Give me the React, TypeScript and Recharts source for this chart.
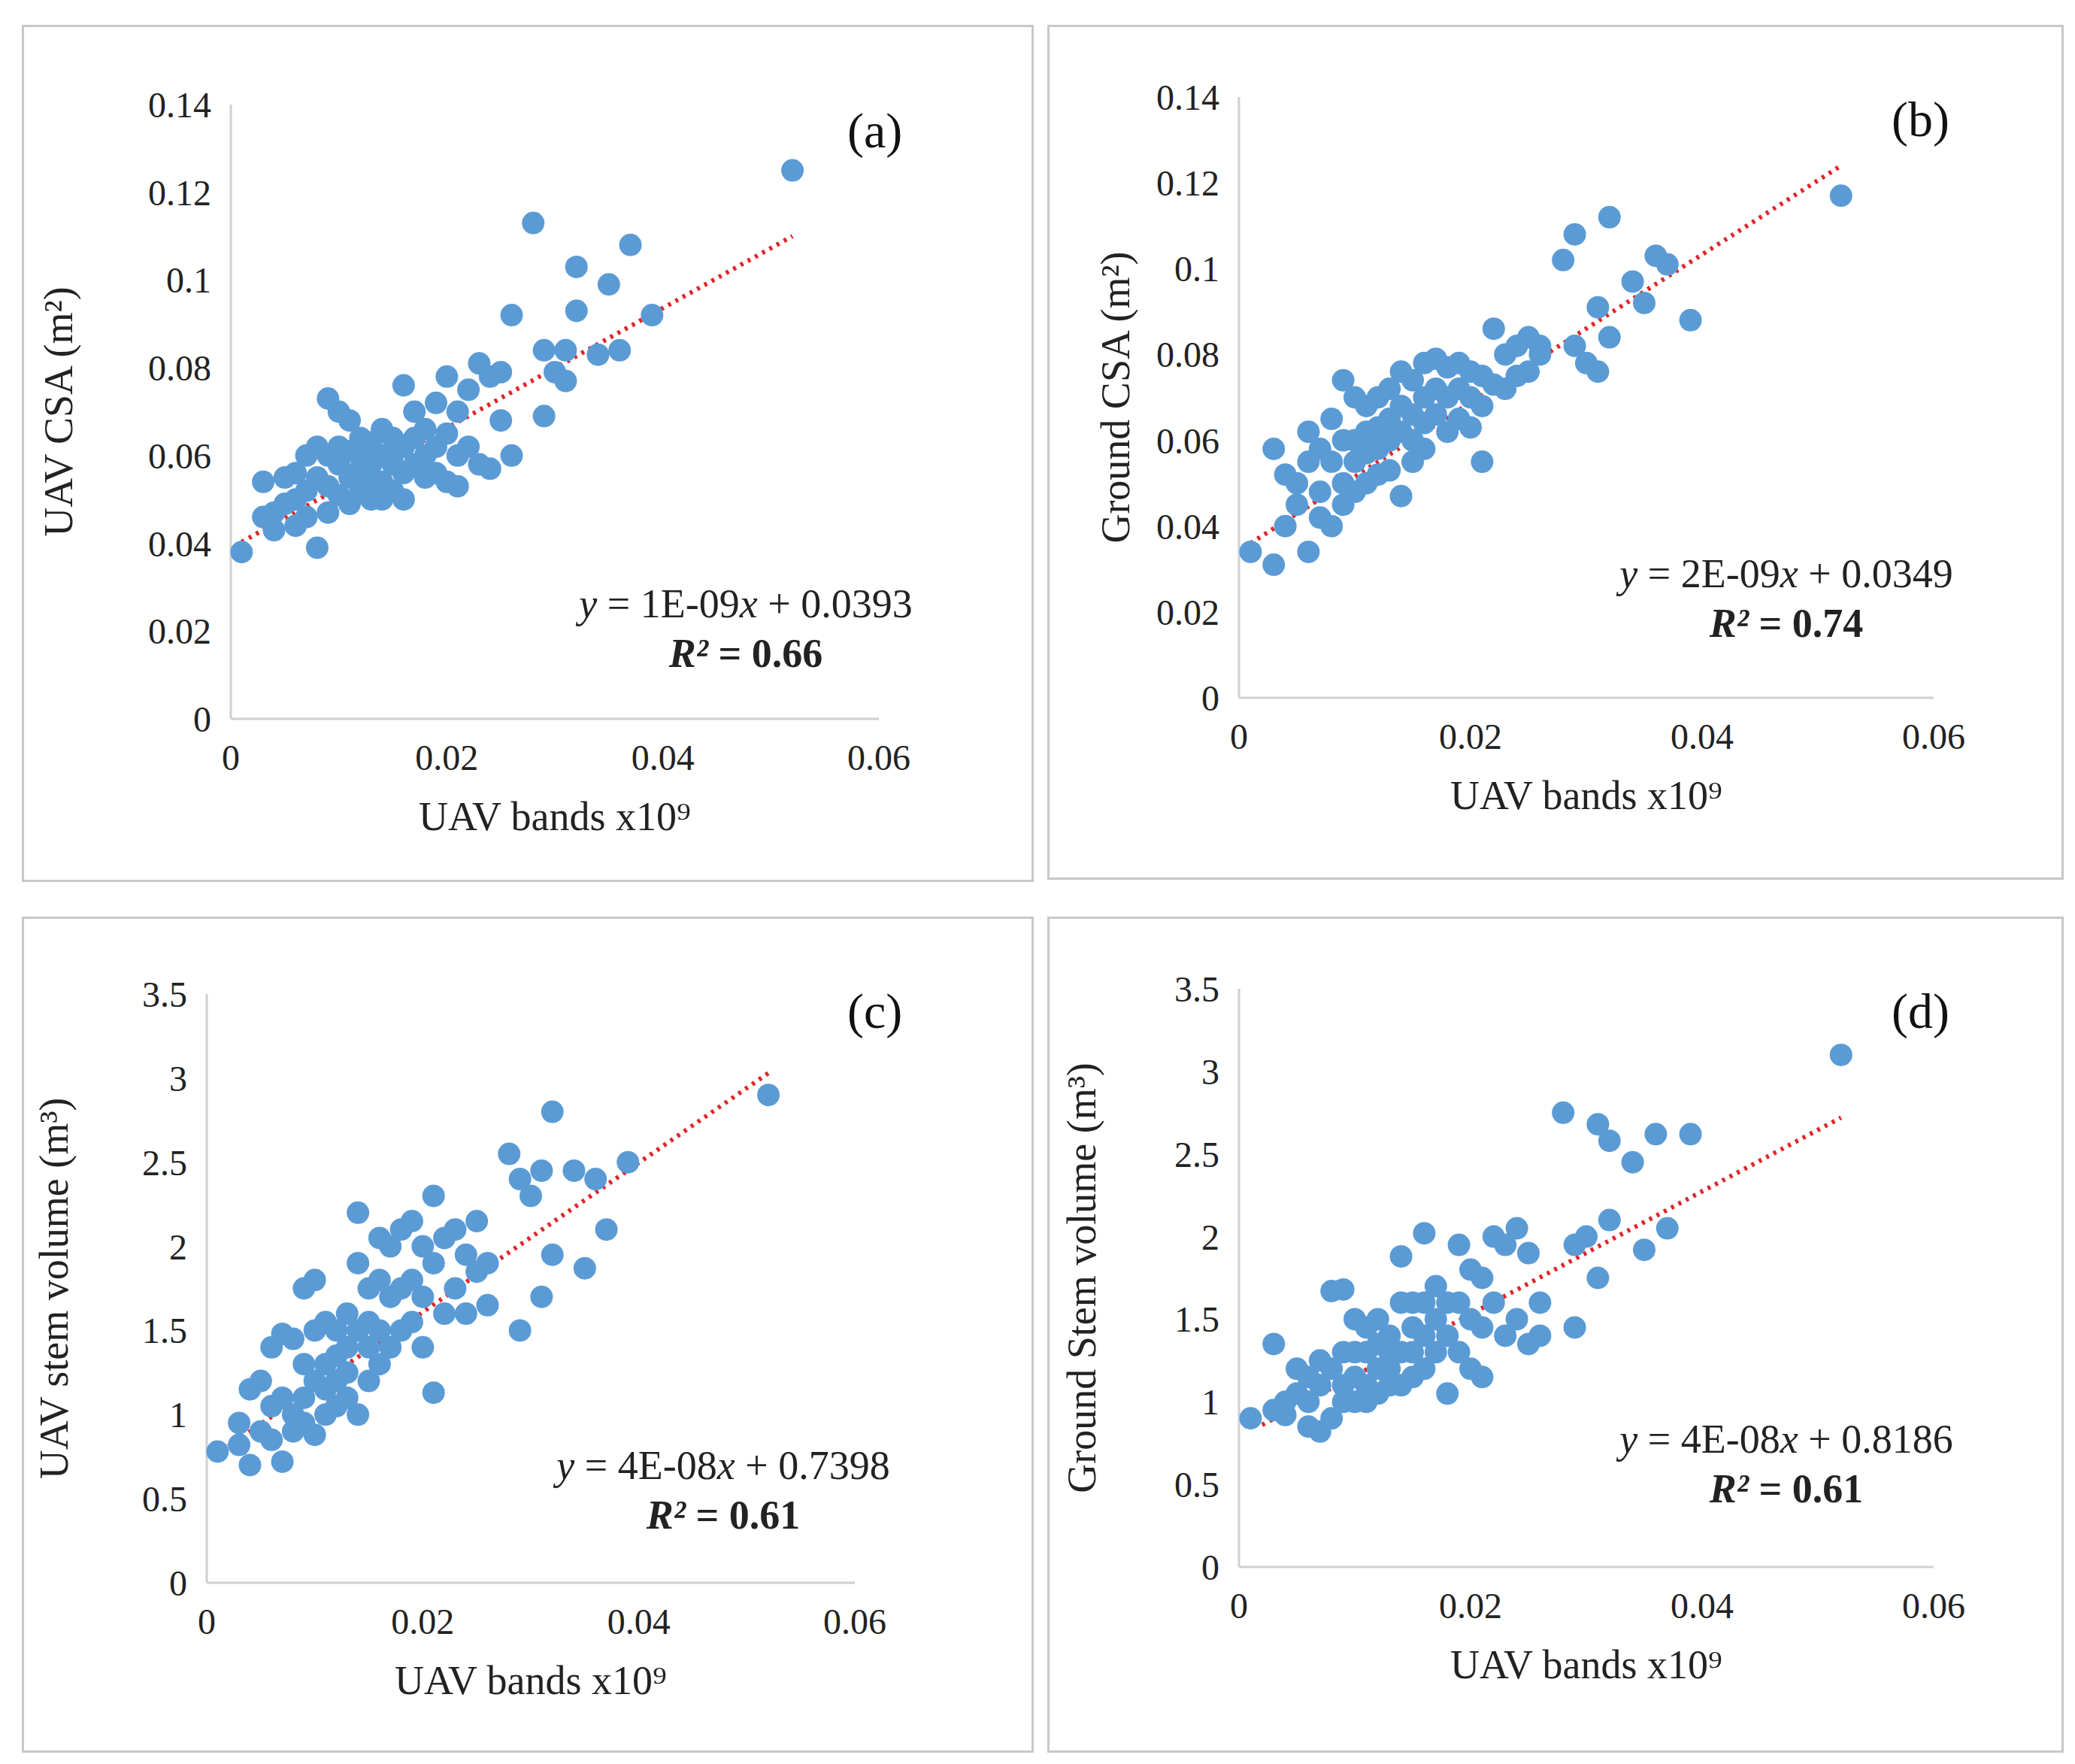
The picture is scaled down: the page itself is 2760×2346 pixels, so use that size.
import React from "react";
import { ScatterChart, Scatter, XAxis, YAxis, ReferenceLine } from "recharts";

const bands = [0.001,0.003,0.003,0.004,0.004,0.005,0.005,0.006,0.006,0.006,0.007,0.007,0.007,0.008,0.008,0.008,0.009,0.009,0.009,0.009,0.010,0.010,0.010,0.010,0.011,0.011,0.011,0.011,0.012,0.012,0.012,0.012,0.013,0.013,0.013,0.013,0.014,0.014,0.014,0.014,0.015,0.015,0.015,0.015,0.016,0.016,0.016,0.016,0.017,0.017,0.017,0.018,0.018,0.018,0.019,0.019,0.019,0.020,0.020,0.020,0.021,0.021,0.021,0.022,0.022,0.023,0.023,0.024,0.024,0.025,0.025,0.026,0.026,0.028,0.029,0.029,0.030,0.031,0.031,0.032,0.032,0.034,0.035,0.036,0.037,0.039,0.052];

const uavCsa = [0.038,0.054,0.046,0.047,0.043,0.055,0.049,0.056,0.044,0.05,0.06,0.052,0.046,0.062,0.055,0.039,0.073,0.06,0.053,0.047,0.07,0.058,0.062,0.051,0.068,0.055,0.061,0.049,0.064,0.057,0.052,0.06,0.063,0.055,0.058,0.05,0.066,0.06,0.054,0.05,0.064,0.058,0.052,0.06,0.076,0.062,0.056,0.05,0.07,0.058,0.064,0.066,0.055,0.06,0.072,0.062,0.056,0.078,0.065,0.054,0.07,0.06,0.053,0.075,0.062,0.081,0.058,0.078,0.057,0.079,0.068,0.092,0.06,0.113,0.084,0.069,0.079,0.084,0.077,0.103,0.093,0.083,0.099,0.084,0.108,0.092,0.125];
const groundCsa = [0.034,0.058,0.031,0.052,0.04,0.05,0.045,0.062,0.034,0.055,0.058,0.048,0.042,0.065,0.055,0.04,0.074,0.06,0.05,0.045,0.07,0.06,0.055,0.048,0.068,0.062,0.057,0.05,0.07,0.063,0.058,0.052,0.072,0.065,0.06,0.053,0.076,0.068,0.062,0.047,0.074,0.066,0.06,0.055,0.078,0.07,0.064,0.058,0.079,0.072,0.066,0.077,0.07,0.062,0.078,0.072,0.065,0.076,0.07,0.063,0.075,0.068,0.055,0.086,0.073,0.08,0.072,0.082,0.075,0.084,0.076,0.082,0.08,0.102,0.108,0.082,0.078,0.091,0.076,0.112,0.084,0.097,0.092,0.103,0.101,0.088,0.117];
const uavVol = [0.78,0.95,0.82,1.15,0.7,1.2,0.9,1.05,0.85,1.4,1.48,1.1,0.72,1.45,1.0,0.9,1.75,1.3,1.1,0.95,1.8,1.5,1.2,0.88,1.55,1.3,1.15,1.0,1.5,1.35,1.2,1.05,1.6,1.4,1.25,1.1,2.2,1.9,1.5,1.0,1.75,1.55,1.4,1.2,2.05,1.8,1.5,1.3,2.0,1.7,1.4,2.1,1.75,1.5,2.15,1.8,1.55,2.0,1.7,1.4,2.3,1.9,1.13,2.05,1.6,2.1,1.75,1.95,1.6,2.15,1.85,1.65,1.9,2.55,2.4,1.5,2.3,2.45,1.7,2.8,1.95,2.45,1.87,2.4,2.1,2.5,2.9];
const groundVol = [0.9,1.35,0.95,1.0,0.92,1.2,1.05,1.15,0.85,1.0,1.25,1.1,0.82,1.67,1.2,0.9,1.68,1.3,1.1,1.0,1.5,1.3,1.15,1.0,1.45,1.3,1.1,1.0,1.5,1.35,1.2,1.05,1.4,1.3,1.2,1.1,1.88,1.6,1.3,1.1,1.6,1.45,1.3,1.15,2.02,1.6,1.4,1.2,1.7,1.5,1.3,1.6,1.4,1.05,1.95,1.6,1.3,1.8,1.5,1.2,1.75,1.45,1.15,2.0,1.6,1.95,1.4,2.05,1.5,1.9,1.35,1.6,1.4,2.75,1.45,1.95,2.0,2.68,1.75,2.58,2.1,2.45,1.92,2.62,2.05,2.62,3.1];

// trend line end points [x1, y1, x2, y2]
const trendA = [0.001, 0.0403, 0.052, 0.11];
const trendB = [0.001, 0.036, 0.052, 0.124];
const trendC = [0.002, 0.81, 0.052, 3.03];
const trendD = [0.002, 0.86, 0.052, 2.72];

const xTicks = [0, 0.02, 0.04, 0.06];
const csaTicks = [0, 0.02, 0.04, 0.06, 0.08, 0.1, 0.12, 0.14];
const volTicks = [0, 0.5, 1, 1.5, 2, 2.5, 3, 3.5];

const font = "'Liberation Serif', 'Times New Roman', serif";
const fmt = (v: number) => String(Number(v.toFixed(2)));

function Panel(props: any) {
  const { box, plot, ys, trend, yTicks, yMax, yLabel, eq, r2, tag, eqPos, tagPos, labelOffset } = props;
  const data = bands.map((x, i) => ({ x, y: ys[i] })).filter((d) => d.y !== undefined);
  const yAxisW = 220;
  const xAxisH = 140;
  return (
    <div style={{ position: "absolute", left: box[0], top: box[1], width: box[2], height: box[3], border: "3px solid #c8c8c8", boxSizing: "border-box", fontFamily: font }}>
      <ScatterChart
        width={box[2] - 6}
        height={box[3] - 6}
        margin={{ left: plot[0] - yAxisW, top: plot[1], right: box[2] - 6 - plot[0] - plot[2], bottom: box[3] - 6 - plot[1] - plot[3] - xAxisH }}
      >
        <XAxis type="number" dataKey="x" domain={[0, 0.06]} ticks={xTicks} tickFormatter={fmt} height={xAxisH}
          stroke="#d0d0d0" strokeWidth={3} tickSize={0} tickMargin={34}
          tick={{ fill: "#222", fontSize: 48, fontFamily: font }}
          label={{ value: "UAV bands x10⁹", position: "insideBottom", offset: -8, fill: "#222", fontSize: 54, fontFamily: font }} />
        <YAxis type="number" dataKey="y" domain={[0, yMax]} ticks={yTicks} tickFormatter={fmt} width={yAxisW}
          stroke="#d0d0d0" strokeWidth={3} tickSize={0} tickMargin={26}
          tick={{ fill: "#222", fontSize: 48, fontFamily: font }}
          label={{ value: yLabel, angle: -90, position: "insideLeft", offset: labelOffset, style: { textAnchor: "middle" }, fill: "#222", fontSize: 54, fontFamily: font }} />
        <Scatter data={data} fill="#5b9bd5" isAnimationActive={false}
          shape={(p: any) => <circle cx={p.cx} cy={p.cy} r={15} fill="#5b9bd5" />} />
        <ReferenceLine segment={[{ x: trend[0], y: trend[1] }, { x: trend[2], y: trend[3] }]}
          stroke="#e0262a" strokeWidth={6} strokeDasharray="4 7" ifOverflow="visible" />
      </ScatterChart>
      <div style={{ position: "absolute", left: tagPos[0], top: tagPos[1], fontSize: 66, color: "#111" }}>{tag}</div>
      <div style={{ position: "absolute", left: eqPos[0], top: eqPos[1], width: 640, textAlign: "center", fontSize: 54, color: "#222", lineHeight: 1.22 }}>
        <div><i>y</i> = {eq[0]}<i>x</i> + {eq[1]}</div>
        <div style={{ fontWeight: "bold" }}><i>R²</i> = {r2}</div>
      </div>
    </div>
  );
}

export default function App() {
  return (
    <div style={{ position: "relative", width: 2760, height: 2346, background: "#fff" }}>
      <Panel box={[21, 25, 1346, 1140]} plot={[275, 103, 862, 817]} ys={uavCsa} trend={trendA} yTicks={csaTicks} yMax={0.14} labelOffset={-10}
        yLabel="UAV CSA (m²)" eq={["1E-09", "0.0393"]} r2="0.66" tag="(a)" tagPos={[1095, 100]} eqPos={[640, 735]} />
      <Panel box={[1385, 25, 1352, 1137]} plot={[252, 93, 924, 799]} ys={groundCsa} trend={trendB} yTicks={csaTicks} yMax={0.14} labelOffset={55}
        yLabel="Ground CSA (m²)" eq={["2E-09", "0.0349"]} r2="0.74" tag="(b)" tagPos={[1120, 85]} eqPos={[660, 695]} />
      <Panel box={[21, 1211, 1346, 1112]} plot={[243, 100, 862, 783]} ys={uavVol} trend={trendC} yTicks={volTicks} yMax={3.5} labelOffset={16}
        yLabel="UAV stem volume (m³)" eq={["4E-08", "0.7398"]} r2="0.61" tag="(c)" tagPos={[1095, 85]} eqPos={[610, 695]} />
      <Panel box={[1385, 1211, 1352, 1112]} plot={[252, 93, 924, 769]} ys={groundVol} trend={trendD} yTicks={volTicks} yMax={3.5} labelOffset={10}
        yLabel="Ground Stem volume (m³)" eq={["4E-08", "0.8186"]} r2="0.61" tag="(d)" tagPos={[1120, 85]} eqPos={[660, 660]} />
    </div>
  );
}
